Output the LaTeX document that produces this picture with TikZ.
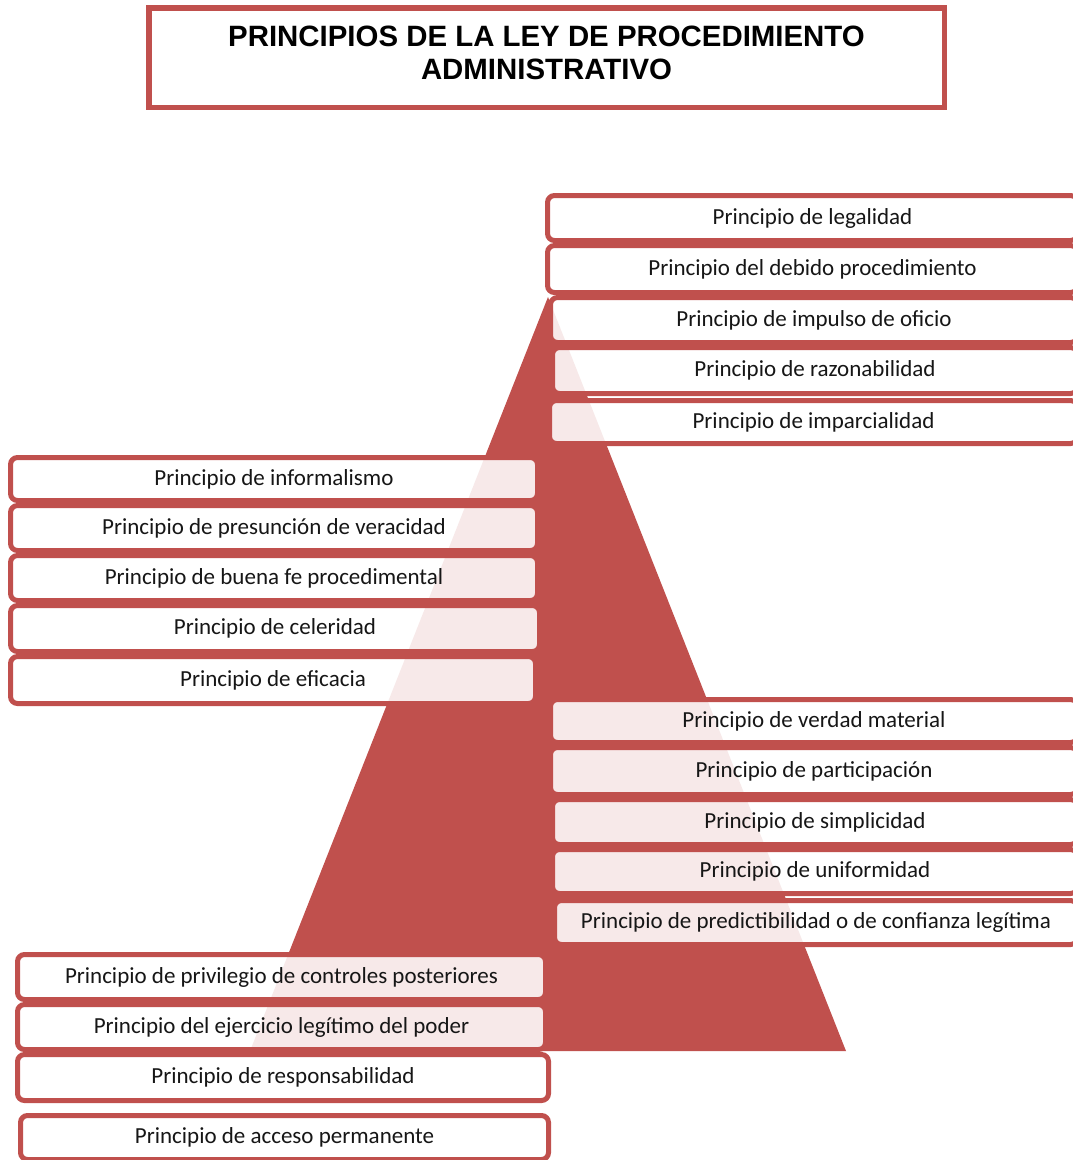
\documentclass[tikz,border=0pt]{standalone}
\usepackage{fontspec}
\newfontfamily\boxfont{Carlito}
\newfontfamily\titlefont{Liberation Sans}
\definecolor{pyrred}{RGB}{192,80,77}
\definecolor{boxtext}{RGB}{22,22,22}

\tikzset{
  pitem/.style={draw=pyrred, line width=5pt, rounded corners=7pt, fill=white,
    fill opacity=0.88, text opacity=1, text=boxtext,
    font=\boxfont\fontsize{23}{27}\selectfont, inner sep=0pt},
  titlebox/.style={draw=pyrred, line width=5.5pt, fill=white, inner sep=0pt},
  titletext/.style={align=center, text=black, inner sep=0pt,
    font=\titlefont\bfseries\fontsize{29.4}{33}\selectfont},
}

% #1 name, #2 left, #3 right, #4 top, #5 bottom (outer edges), #6 text
\newcommand\pitem[6]{%
  \node[pitem, minimum width={#3-#2-5}, minimum height={#5-#4-5}]
    (#1) at ({(#2+#3)/2},{(#4+#5)/2}) {#6};}

\begin{document}
\begin{tikzpicture}[x=1pt,y=-1pt]
\useasboundingbox (0,0) rectangle (1073,1160);
\clip (0,0) rectangle (1073,1160);

% title
\node[titlebox, minimum width=795.5, minimum height=99.5] (title) at (546.5,57.5) {};
\node[titletext] (titletext) at (546.5,53) {PRINCIPIOS DE LA LEY DE PROCEDIMIENTO\\ADMINISTRATIVO};

% pyramid
\fill[pyrred] (548,297) -- (846,1051) -- (250,1051) -- cycle;

% upper right column
\pitem{legalidad}{545}{1080}{193}{243}{Principio de legalidad}
\pitem{debido}{545}{1080}{243}{295}{Principio del debido procedimiento}
\pitem{impulso}{548}{1080}{295}{345}{Principio de impulso de oficio}
\pitem{razonab}{550}{1080}{345}{396}{Principio de razonabilidad}
\pitem{imparc}{547}{1080}{398}{446}{Principio de imparcialidad}

% left column
\pitem{informal}{8}{540}{455}{503}{Principio de informalismo}
\pitem{presuncion}{8}{540}{503}{553}{Principio de presunción de veracidad}
\pitem{buenafe}{8}{540}{553}{603}{Principio de buena fe procedimental}
\pitem{celeridad}{8}{542}{603}{654}{Principio de celeridad}
\pitem{eficacia}{8}{538}{654}{706}{Principio de eficacia}

% lower right column
\pitem{verdad}{548}{1080}{697}{745}{Principio de verdad material}
\pitem{particip}{548}{1080}{745}{797}{Principio de participación}
\pitem{simplic}{550}{1080}{797}{847}{Principio de simplicidad}
\pitem{uniform}{550}{1080}{847}{896}{Principio de uniformidad}
\pitem{predict}{552}{1080}{898}{947}{Principio de predictibilidad o de confianza legítima}

% bottom left column
\pitem{privilegio}{15}{548}{952}{1002}{Principio de privilegio de controles posteriores}
\pitem{ejercicio}{15}{548}{1002}{1052}{Principio del ejercicio legítimo del poder}
\pitem{respons}{15}{551}{1052}{1103}{Principio de responsabilidad}
\pitem{acceso}{18}{551}{1113}{1162}{Principio de acceso permanente}
\end{tikzpicture}
\end{document}
